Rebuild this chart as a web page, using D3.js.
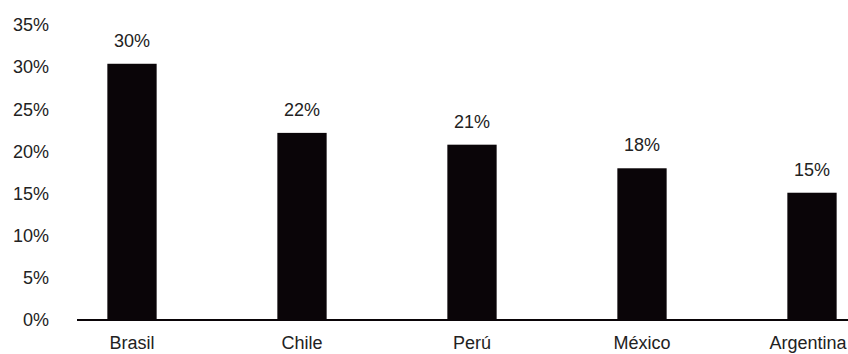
<!DOCTYPE html>
<html>
<head>
<meta charset="utf-8">
<script src="https://cdn.jsdelivr.net/npm/d3@7"></script>
<style>
  html, body { margin: 0; padding: 0; background: #fff; }
  svg { display: block; font-family: "Liberation Sans", Arial, sans-serif; }
</style>
</head>
<body>
<svg id="chart" width="848" height="354"></svg>
<script>
// Share by country
const countries = ["Brasil", "Chile", "Perú", "México", "Argentina"];
const shares = [30.4, 22.2, 20.8, 18.0, 15.1];
const valueLabels = ["30%", "22%", "21%", "18%", "15%"];
const yTicks = [0, 5, 10, 15, 20, 25, 30, 35];

const width = 848;
const svg = d3.select("#chart");
const fontSize = 18;

const x = d3.scaleBand()
  .domain(countries)
  .range([47, 897])
  .paddingInner(0.71)
  .paddingOuter(0.355);

const y = d3.scaleLinear()
  .domain([0, 35])
  .range([320, 25]);

// Y axis labels (no axis line, no ticks)
const yAxis = d3.axisLeft(y)
  .tickValues(yTicks)
  .tickFormat(d => d + "%")
  .tickSize(0)
  .tickPadding(0);

svg.append("g")
  .attr("transform", "translate(49,0)")
  .call(yAxis)
  .call(g => g.select(".domain").remove())
  .call(g => g.selectAll("text")
    .attr("font-size", fontSize)
    .attr("font-family", "Liberation Sans, Arial, sans-serif")
    .attr("fill", "#222"));

// Bars
svg.append("g")
  .selectAll("rect")
  .data(countries)
  .join("rect")
  .attr("x", d => x(d))
  .attr("width", x.bandwidth())
  .attr("y", (d, i) => y(shares[i]))
  .attr("height", (d, i) => y(0) - y(shares[i]))
  .attr("fill", "#0a0508");

// Value labels above bars
svg.append("g")
  .selectAll("text")
  .data(countries)
  .join("text")
  .attr("x", d => x(d) + x.bandwidth() / 2)
  .attr("y", (d, i) => y(shares[i]) - 17)
  .attr("text-anchor", "middle")
  .attr("font-size", fontSize)
  .attr("fill", "#222")
  .text((d, i) => valueLabels[i]);

// X axis category labels
const xAxis = d3.axisBottom(x).tickSize(0).tickPadding(0);
svg.append("g")
  .attr("transform", `translate(0,${y(0)})`)
  .call(xAxis)
  .call(g => g.select(".domain").remove())
  .call(g => g.selectAll("text")
    .attr("dy", null)
    .attr("y", 29)
    .attr("font-size", fontSize)
    .attr("font-family", "Liberation Sans, Arial, sans-serif")
    .attr("fill", "#222"))
  // keep the last label inside the right edge
  .call(g => g.selectAll(".tick").each(function(d) {
    const t = d3.select(this).select("text");
    const box = this.getBBox();
    const cx = x(d) + x.bandwidth() / 2;
    const overflow = cx + box.width / 2 - (width - 1);
    if (overflow > 0) t.attr("x", -overflow);
  }));

// Baseline
svg.append("line")
  .attr("x1", 77)
  .attr("x2", width)
  .attr("y1", y(0))
  .attr("y2", y(0))
  .attr("stroke", "#0a0508")
  .attr("stroke-width", 2);
</script>
</body>
</html>
